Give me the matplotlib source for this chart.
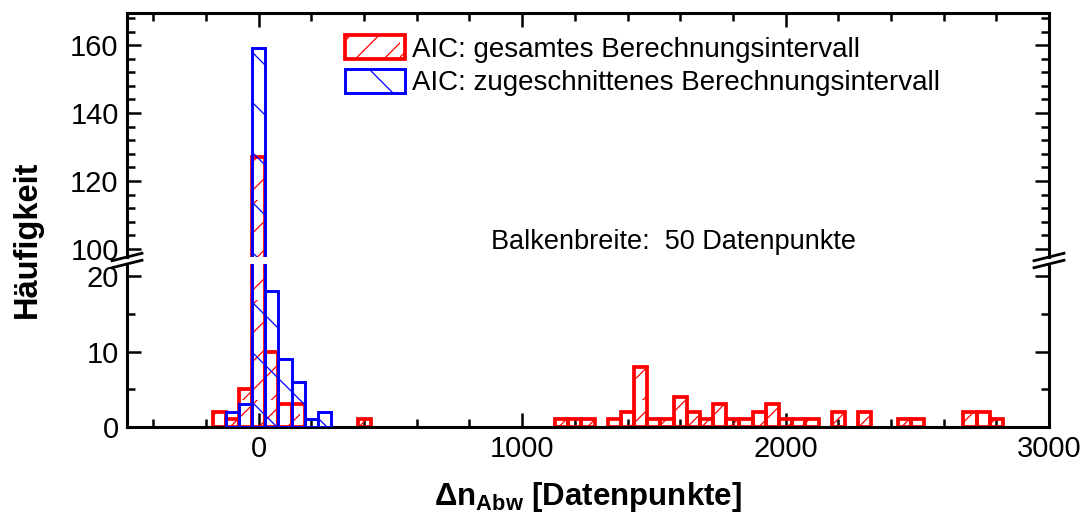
import matplotlib
matplotlib.use("Agg")
import matplotlib.pyplot as plt
import matplotlib.hatch as mhatch
from matplotlib.lines import Line2D
from matplotlib.ticker import MultipleLocator, FixedLocator

# ---------------- data ----------------
bin_width = 50
red_centers = [-150, -100, -50, 0, 50, 100, 150, 400, 1150, 1200, 1250, 1350, 1400,
               1450, 1500, 1550, 1600, 1650, 1700, 1750, 1800, 1850, 1900, 1950,
               2000, 2050, 2100, 2200, 2300, 2450, 2500, 2700, 2750, 2800]
red_counts = [2, 1, 5, 127, 10, 3, 3, 1, 1, 1, 1, 1, 2,
              8, 1, 1, 4, 2, 1, 3, 1, 1, 2, 3,
              1, 1, 1, 2, 2, 1, 1, 2, 2, 1]
blue_centers = [-100, -50, 0, 50, 100, 150, 200, 250]
blue_counts = [2, 3, 159, 18, 9, 6, 1, 2]
red_label = "AIC: gesamtes Berechnungsintervall"
blue_label = "AIC: zugeschnittenes Berechnungsintervall"
x_major = [0, 1000, 2000, 3000]
y_top_major = [100, 120, 140, 160]
y_bot_major = [0, 10, 20]


# custom hatch densities (red '/' denser, blue '\' sparser)
class _NE(mhatch.NorthEastHatch):
    def __init__(self, hatch, density):
        self.num_lines = int(hatch.count('/') * 7)
        self.num_vertices = (self.num_lines + 1) * 2 if self.num_lines else 0


class _SE(mhatch.SouthEastHatch):
    def __init__(self, hatch, density):
        self.num_lines = int(hatch.count('\\') * 4)
        self.num_vertices = (self.num_lines + 1) * 2 if self.num_lines else 0


mhatch._hatch_types[mhatch._hatch_types.index(mhatch.NorthEastHatch)] = _NE
mhatch._hatch_types[mhatch._hatch_types.index(mhatch.SouthEastHatch)] = _SE

plt.rcParams['font.family'] = ['Liberation Sans', 'DejaVu Sans']
plt.rcParams['hatch.linewidth'] = 0.9

W, H = 1089, 523
fig = plt.figure(figsize=(W / 100, H / 100), dpi=100)


def fx(px):
    return px / W


def fy(py):
    return 1 - py / H


L, R = 127, 1049
ax_top = fig.add_axes([fx(L), fy(257), fx(R) - fx(L), fy(12.5) - fy(257)])
ax_bot = fig.add_axes([fx(L), fy(427), fx(R) - fx(L), fy(264) - fy(427)])

red_c = '#ff0000'
blue_c = '#0000ff'
for ax in (ax_top, ax_bot):
    rb = ax.bar(red_centers, red_counts, width=bin_width, fill=False, edgecolor=red_c,
                hatch='/', linewidth=2.7, label=red_label, zorder=2)
    bb = ax.bar(blue_centers, blue_counts, width=bin_width, fill=False, edgecolor=blue_c,
                hatch='\\', linewidth=2.1, label=blue_label, zorder=3)
    ax.set_xlim(-500, 3000)
    ax.xaxis.set_major_locator(FixedLocator(x_major))
    ax.xaxis.set_minor_locator(MultipleLocator(200))
    for sp in ax.spines.values():
        sp.set_linewidth(2.2)
    ax.tick_params(which='both', direction='in', width=1.8, left=True, right=True,
                   labelsize=21, pad=6)
    ax.tick_params(which='major', length=10)
    ax.tick_params(which='minor', length=6)

ax_top.set_ylim(97.6, 169.6)
ax_top.yaxis.set_major_locator(FixedLocator(y_top_major))
ax_top.yaxis.set_minor_locator(MultipleLocator(4))
ax_top.spines['bottom'].set_visible(False)
ax_top.tick_params(axis='x', which='both', bottom=False, top=True, labelbottom=False)

ax_bot.set_ylim(0, 21.65)
ax_bot.yaxis.set_major_locator(FixedLocator(y_bot_major))
ax_bot.yaxis.set_minor_locator(MultipleLocator(5))
ax_bot.spines['top'].set_visible(False)
ax_bot.tick_params(axis='x', which='both', bottom=True, top=False)

# legend
ax_top.legend(handles=[rb, bb], loc='upper left',
              bbox_to_anchor=(fx(345), fy(35)), bbox_transform=fig.transFigure,
              frameon=False, fontsize=20, handlelength=2.15, handleheight=0.95,
              handletextpad=0.25, labelspacing=0.22, borderpad=0, borderaxespad=0)

# annotation
ax_top.text(883, 100, "Balkenbreite:  50 Datenpunkte", fontsize=19.5,
            ha='left', va='baseline')

# axis labels
fig.text(fx(27), fy(239), "Häufigkeit", rotation=90, fontsize=23.5, fontweight='bold',
         ha='center', va='center')
fig.text(fx(588), fy(497), "Δn$_\\mathregular{Abw}$ [Datenpunkte]", fontsize=22.5,
         fontweight='bold', ha='center', va='center')

# break marks
for xc in (L, R):
    for yc in (257, 264):
        x0, x1 = xc - 15, xc + 15
        fig.add_artist(Line2D([fx(x0), fx(x1)], [fy(yc + 3.75), fy(yc - 3.75)],
                              transform=fig.transFigure, color='black', lw=2.0))

fig.savefig("out.png", dpi=100)
